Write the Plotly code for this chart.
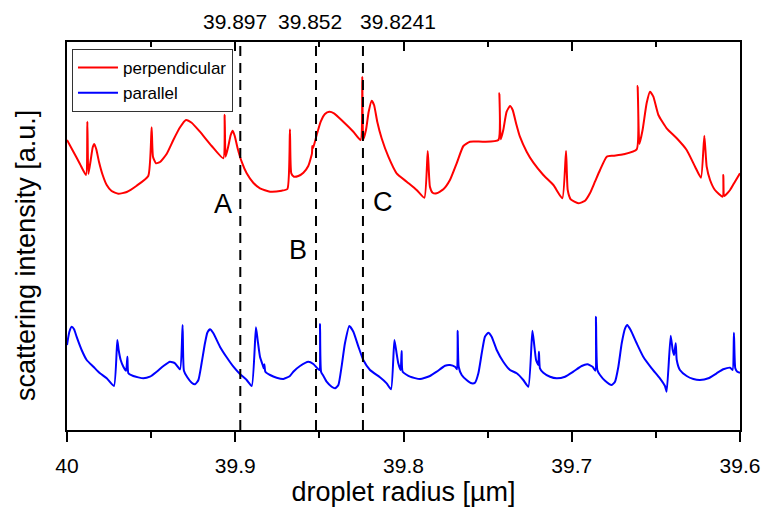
import plotly.graph_objects as go

# droplet radius [um] and scattering intensity [a.u.]
perp_r = [40.0000, 39.9962, 39.9923, 39.9887, 39.9879, 39.9873, 39.9859, 39.9847, 39.9838, 39.9826,
          39.9810, 39.9788, 39.9764, 39.9735, 39.9695, 39.9645, 39.9586, 39.9517, 39.9497, 39.9489,
          39.9471, 39.9447, 39.9408, 39.9368, 39.9328, 39.9293, 39.9259, 39.9210, 39.9140, 39.9071,
          39.9063, 39.9057, 39.9041, 39.9027, 39.9015, 39.9003, 39.8986, 39.8962, 39.8932, 39.8893,
          39.8853, 39.8793, 39.8724, 39.8690, 39.8675, 39.8667, 39.8651, 39.8625, 39.8595, 39.8566,
          39.8544, 39.8542, 39.8538, 39.8516, 39.8492, 39.8467, 39.8441, 39.8413, 39.8358, 39.8298,
          39.8255, 39.8245, 39.8239, 39.8223, 39.8207, 39.8189, 39.8175, 39.8156, 39.8130, 39.8090,
          39.8041, 39.7981, 39.7922, 39.7876, 39.7856, 39.7843, 39.7827, 39.7803, 39.7763, 39.7724,
          39.7684, 39.7644, 39.7605, 39.7525, 39.7436, 39.7430, 39.7422, 39.7407, 39.7387, 39.7367,
          39.7351, 39.7331, 39.7308, 39.7268, 39.7228, 39.7169, 39.7109, 39.7056, 39.7034, 39.7024,
          39.7006, 39.6961, 39.6921, 39.6892, 39.6862, 39.6832, 39.6792, 39.6753, 39.6693, 39.6614,
          39.6608, 39.6598, 39.6579, 39.6555, 39.6535, 39.6515, 39.6485, 39.6436, 39.6376, 39.6317,
          39.6267, 39.6232, 39.6212, 39.6198, 39.6178, 39.6149, 39.6103, 39.6099, 39.6093, 39.6059,
          39.6030, 39.6000]
perp_i = [290.0, 278.3, 266.0, 255.0, 308.3, 256.0, 270.0, 282.7, 286.0, 280.7,
          268.3, 255.0, 245.0, 239.0, 236.3, 238.0, 244.3, 254.0, 302.7, 273.3,
          266.7, 268.0, 276.0, 290.0, 302.7, 310.0, 307.3, 298.3, 284.0, 271.7,
          315.3, 273.3, 284.0, 295.0, 299.3, 294.0, 281.7, 268.3, 256.7, 247.3,
          241.7, 238.3, 239.3, 241.0, 300.7, 256.7, 253.3, 254.0, 257.3, 264.0,
          276.7, 284.0, 281.7, 295.0, 308.3, 316.0, 318.3, 316.7, 308.3, 298.3,
          290.0, 353.3, 290.7, 300.0, 318.3, 329.3, 325.0, 308.3, 291.7, 273.3,
          256.7, 248.3, 240.0, 232.3, 279.0, 243.3, 237.3, 236.7, 240.7, 250.0,
          266.7, 284.0, 288.3, 288.3, 290.0, 336.7, 290.7, 300.0, 318.3, 324.0,
          320.0, 306.7, 293.3, 278.3, 267.3, 255.0, 245.0, 231.7, 279.0, 240.0,
          230.7, 226.7, 229.3, 236.7, 248.3, 260.0, 273.3, 274.3, 275.7, 280.7,
          344.0, 286.0, 300.0, 326.7, 338.3, 333.3, 315.0, 301.7, 291.7, 280.0,
          263.3, 252.3, 294.3, 263.3, 250.0, 240.0, 233.3, 255.0, 234.0, 240.0,
          248.3, 256.7]

para_r = [40.0000, 39.9986, 39.9972, 39.9958, 39.9943, 39.9913, 39.9883, 39.9843, 39.9804, 39.9764,
          39.9721, 39.9701, 39.9693, 39.9681, 39.9665, 39.9649, 39.9641, 39.9635, 39.9606, 39.9546,
          39.9507, 39.9467, 39.9427, 39.9388, 39.9358, 39.9328, 39.9313, 39.9305, 39.9285, 39.9259,
          39.9239, 39.9219, 39.9200, 39.9180, 39.9166, 39.9150, 39.9130, 39.9091, 39.9051, 39.9011,
          39.8972, 39.8932, 39.8902, 39.8877, 39.8867, 39.8853, 39.8837, 39.8831, 39.8827, 39.8821,
          39.8793, 39.8754, 39.8714, 39.8675, 39.8655, 39.8615, 39.8566, 39.8536, 39.8512, 39.8500,
          39.8496, 39.8490, 39.8476, 39.8457, 39.8427, 39.8407, 39.8387, 39.8368, 39.8348, 39.8322,
          39.8298, 39.8268, 39.8239, 39.8199, 39.8140, 39.8100, 39.8074, 39.8054, 39.8041, 39.8031,
          39.8017, 39.8011, 39.8005, 39.7961, 39.7902, 39.7843, 39.7803, 39.7753, 39.7724, 39.7694,
          39.7682, 39.7678, 39.7672, 39.7654, 39.7625, 39.7595, 39.7575, 39.7555, 39.7535, 39.7516,
          39.7496, 39.7476, 39.7446, 39.7407, 39.7367, 39.7327, 39.7288, 39.7258, 39.7234, 39.7224,
          39.7212, 39.7199, 39.7195, 39.7189, 39.7169, 39.7129, 39.7090, 39.7040, 39.6991, 39.6941,
          39.6907, 39.6876, 39.6860, 39.6856, 39.6848, 39.6832, 39.6802, 39.6763, 39.6743, 39.6723,
          39.6703, 39.6683, 39.6670, 39.6650, 39.6614, 39.6575, 39.6525, 39.6476, 39.6446, 39.6436,
          39.6412, 39.6400, 39.6392, 39.6382, 39.6376, 39.6357, 39.6317, 39.6277, 39.6238, 39.6188,
          39.6139, 39.6099, 39.6059, 39.6044, 39.6036, 39.6028, 39.6016, 39.6000]
para_i = [85.0, 98.3, 103.3, 100.7, 93.3, 80.0, 70.0, 63.3, 56.7, 51.7,
          44.0, 90.0, 80.0, 70.0, 63.3, 59.3, 73.3, 56.7, 54.0, 51.7,
          53.3, 58.3, 64.0, 68.3, 66.7, 60.7, 105.0, 59.3, 52.7, 47.3,
          45.7, 50.0, 66.7, 86.7, 97.3, 100.7, 96.7, 83.3, 72.7, 63.3,
          56.0, 50.0, 44.0, 102.7, 90.0, 73.3, 65.0, 61.7, 65.7, 58.3,
          55.0, 52.3, 51.0, 54.0, 58.3, 64.0, 68.3, 66.0, 61.7, 60.0,
          106.0, 58.3, 54.0, 48.3, 43.3, 41.7, 45.0, 63.3, 86.7, 104.0,
          98.3, 83.3, 70.0, 60.0, 52.7, 46.7, 40.7, 90.0, 76.7, 66.7,
          60.0, 79.0, 58.3, 53.3, 51.0, 54.0, 58.3, 64.3, 65.0, 63.3,
          60.7, 99.3, 63.3, 55.0, 50.0, 46.7, 47.3, 56.7, 76.7, 93.3,
          97.3, 93.3, 80.0, 68.3, 60.0, 56.7, 50.0, 43.3, 99.3, 86.7,
          70.0, 65.0, 78.3, 61.7, 57.3, 53.3, 51.7, 53.3, 58.3, 64.0,
          65.7, 63.3, 59.3, 113.3, 60.0, 55.0, 49.3, 45.0, 48.3, 63.3,
          86.7, 101.7, 105.0, 100.0, 86.7, 73.3, 61.7, 51.7, 44.0, 38.3,
          94.3, 80.0, 75.0, 86.7, 70.0, 60.0, 54.0, 51.0, 50.0, 51.7,
          56.7, 60.7, 62.3, 60.0, 97.3, 61.7, 58.3, 57.3]

marked_r = [39.897, 39.852, 39.8241]
marked_labels = ["39.897", "39.852", "39.8241"]
region_letters = ["A", "B", "C"]
letter_r = [39.9075, 39.8625, 39.8124]
letter_i = [226, 180, 228]

major_ticks = [40, 39.9, 39.8, 39.7, 39.6]

font = "Arial, Liberation Sans, sans-serif"

fig = go.Figure()
fig.add_trace(go.Scatter(x=perp_r, y=perp_i, mode="lines", name="perpendicular",
                         line=dict(color="#ff0000", width=2, shape="spline", smoothing=0.5)))
fig.add_trace(go.Scatter(x=para_r, y=para_i, mode="lines", name="parallel",
                         line=dict(color="#0000ff", width=2, shape="spline", smoothing=0.5)))

for r in marked_r:
    fig.add_shape(type="line", x0=r, x1=r, xref="x", y0=0, y1=1, yref="paper",
                  line=dict(color="black", width=2, dash="10px,7px"))

label_shift = [-5, -6, 35]
for r, lab, s in zip(marked_r, marked_labels, label_shift):
    fig.add_annotation(x=r, y=1, xref="x", yref="paper", text=lab, showarrow=False,
                       xanchor="center", yanchor="bottom", xshift=s, yshift=7,
                       font=dict(family=font, size=21, color="black"))

for t, r, i in zip(region_letters, letter_r, letter_i):
    fig.add_annotation(x=r, y=i, text=t, showarrow=False,
                       font=dict(family=font, size=27, color="black"))

# y-axis title (placed like the reference, slightly below the plot centre)
fig.add_annotation(x=-0.061, y=0.451, xref="paper", yref="paper",
                   text="scattering intensity [a.u.]", textangle=-90, showarrow=False,
                   xanchor="center", yanchor="middle",
                   font=dict(family=font, size=27, color="black"))

# invisible trace for the top (mirrored) axis
fig.add_trace(go.Scatter(x=[40, 39.6], y=[0, 0], xaxis="x2", mode="markers",
                         marker=dict(opacity=0), showlegend=False, hoverinfo="skip"))

fig.update_layout(
    width=763, height=512,
    margin=dict(l=67, r=23, t=42, b=82),
    paper_bgcolor="white", plot_bgcolor="white",
    font=dict(family=font, size=21, color="black"),
    showlegend=True,
    legend=dict(x=0.0074, y=0.982, xanchor="left", yanchor="top",
                bgcolor="white", bordercolor="#333", borderwidth=1,
                font=dict(family=font, size=17), itemwidth=40,
                tracegroupgap=0),
    xaxis=dict(range=[40, 39.6], tickvals=major_ticks,
               ticktext=[str(v) for v in major_ticks],
               ticks="outside", ticklen=10, tickwidth=1.5, tickcolor="black",
               minor=dict(dtick=0.05, ticks="outside", ticklen=6, tickwidth=1.5, tickcolor="black"),
               showline=True, linecolor="black", linewidth=1.5, mirror=True,
               showgrid=False, zeroline=False, automargin=False,
               ticklabelstandoff=6,
               title=dict(text="droplet radius [µm]", font=dict(size=27), standoff=4),
               tickfont=dict(size=21)),
    xaxis2=dict(range=[40, 39.6], overlaying="x", side="top", tickvals=major_ticks,
                showticklabels=False, ticks="inside", ticklen=9, tickwidth=1.5, tickcolor="black",
                minor=dict(dtick=0.05, ticks="inside", ticklen=5, tickwidth=1.5, tickcolor="black"),
                showline=False, showgrid=False, zeroline=False, automargin=False),
    yaxis=dict(range=[0, 388], showticklabels=False, ticks="", showgrid=False,
               zeroline=False, showline=True, linecolor="black", linewidth=1.5, mirror=True,
               automargin=False),
)

# remove the default page margin so the 763x512 figure fills the window exactly
fig.write_html("out.html", config={"displayModeBar": False},
               post_script="document.body.style.margin='0px';document.body.style.overflow='hidden';")
